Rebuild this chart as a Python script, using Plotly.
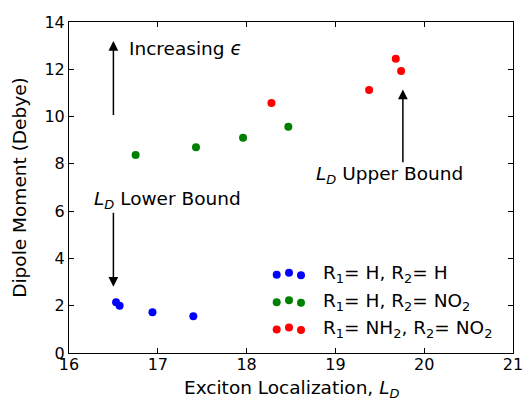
import plotly.graph_objects as go

# ---- data ----
series_names = ["R<sub>1</sub>= H, R<sub>2</sub>= H",
                "R<sub>1</sub>= H, R<sub>2</sub>= NO<sub>2</sub>",
                "R<sub>1</sub>= NH<sub>2</sub>, R<sub>2</sub>= NO<sub>2</sub>"]
series_colors = ["#0000ff", "#008000", "#ff0000"]

x_hh = [16.53, 16.57, 16.94, 17.40]
y_hh = [2.15, 2.00, 1.72, 1.55]

x_hno2 = [16.75, 17.43, 17.96, 18.47]
y_hno2 = [8.37, 8.70, 9.10, 9.57]

x_nh2no2 = [18.28, 19.38, 19.68, 19.74]
y_nh2no2 = [10.57, 11.12, 12.45, 11.93]

x_ticks = [16, 17, 18, 19, 20, 21]
y_ticks = [0, 2, 4, 6, 8, 10, 12, 14]

FONT = "DejaVu Sans"
FS = 18.5
TFS = 16

fig = go.Figure()
for xs, ys, name, col in zip([x_hh, x_hno2, x_nh2no2], [y_hh, y_hno2, y_nh2no2],
                             series_names, series_colors):
    fig.add_trace(go.Scatter(x=xs, y=ys, mode="markers", name=name,
                             marker=dict(color=col, size=8, line=dict(width=0)),
                             showlegend=False, cliponaxis=False))

L, R, T, B = 69, 10, 22, 47
W, H = 523, 400
pw, ph = W - L - R, H - T - B

def px2paper(px, py):
    return (px - L) / pw, (H - B - py) / ph

shapes = []
annotations = []
# custom legend (three jittered dots per entry, like the original)
row_py = [274.3, 301.7, 329.0]
dot_px = [276.7, 289.0, 301.0]
dot_dy = [0.5, -1.5, 1.0]
r = 4
for name, col, py in zip(series_names, series_colors, row_py):
    for dx, dy in zip(dot_px, dot_dy):
        x0, y0 = px2paper(dx - r, py + dy + r)
        x1, y1 = px2paper(dx + r, py + dy - r)
        shapes.append(dict(type="circle", xref="paper", yref="paper",
                           x0=x0, y0=y0, x1=x1, y1=y1,
                           fillcolor=col, line=dict(width=0)))
    tx, ty = px2paper(321, py)
    annotations.append(dict(xref="paper", yref="paper", x=tx, y=ty, text=name,
                            showarrow=False, xanchor="left", yanchor="middle",
                            font=dict(family=FONT, size=FS, color="black")))

# arrows
arrow_style = dict(showarrow=True, arrowhead=2, arrowsize=1.3, arrowwidth=1.5,
                   arrowcolor="black", xref="x", yref="y", axref="x", ayref="y",
                   text="")
annotations.append(dict(x=16.5, y=13.2, ax=16.5, ay=10.0, **arrow_style))
annotations.append(dict(x=16.5, y=2.8, ax=16.5, ay=6.0, **arrow_style))
annotations.append(dict(x=19.76, y=11.15, ax=19.76, ay=8.0, **arrow_style))

# labels
annotations.append(dict(x=16.65, y=12.87, xref="x", yref="y", showarrow=False,
                        text="Increasing <i>ϵ</i>", xanchor="left", yanchor="middle",
                        font=dict(family=FONT, size=FS, color="black")))
annotations.append(dict(x=16.26, y=6.47, xref="x", yref="y", showarrow=False,
                        text="<i>L<sub>D</sub></i> Lower Bound", xanchor="left", yanchor="middle",
                        font=dict(family=FONT, size=FS, color="black")))
annotations.append(dict(x=18.76, y=7.53, xref="x", yref="y", showarrow=False,
                        text="<i>L<sub>D</sub></i> Upper Bound", xanchor="left", yanchor="middle",
                        font=dict(family=FONT, size=FS, color="black")))

# x-axis title placed as an annotation for exact position
tx, ty = px2paper(291, 389)
annotations.append(dict(xref="paper", yref="paper", x=tx, y=ty, showarrow=False,
                        text="Exciton Localization, <i>L<sub>D</sub></i>",
                        xanchor="center", yanchor="middle",
                        font=dict(family=FONT, size=FS, color="black")))

axis_common = dict(showgrid=False, zeroline=False, showline=True, linecolor="black",
                   linewidth=1, mirror="ticks", ticks="inside", ticklen=5,
                   tickcolor="black", automargin=False, ticklabeloverflow="allow",
                   tickfont=dict(family=FONT, size=TFS, color="black"))

fig.update_layout(
    width=W, height=H,
    margin=dict(l=L, r=R, t=T, b=B),
    paper_bgcolor="white", plot_bgcolor="white",
    xaxis=dict(range=[16, 21], tickvals=x_ticks, ticktext=[str(v) for v in x_ticks],
               ticklabelstandoff=-3,
               **axis_common),
    yaxis=dict(range=[0, 14], tickvals=y_ticks, ticktext=[str(v) for v in y_ticks],
               title=dict(text="Dipole Moment (Debye)",
                          font=dict(family=FONT, size=FS, color="black"), standoff=12),
               **axis_common),
    shapes=shapes, annotations=annotations,
    font=dict(family=FONT, size=FS, color="black"),
)

fig.write_html("out.html")
